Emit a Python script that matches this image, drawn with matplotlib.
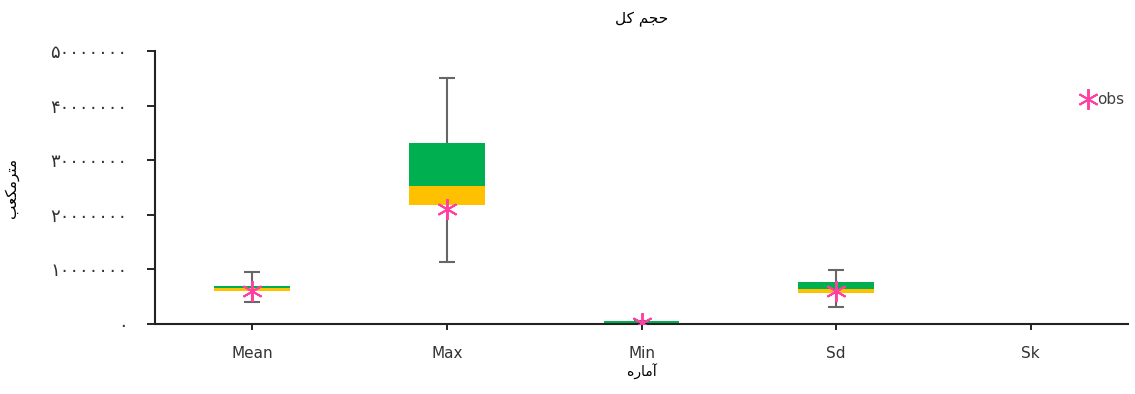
import numpy as np
import matplotlib
matplotlib.use("Agg")
import matplotlib.pyplot as plt

plt.rcParams['font.family'] = ['DejaVu Sans']

# Persian labels, written as presentation forms in visual order
# (matplotlib has no Arabic shaping)
TITLE = "\uFEDE\uFB90 \uFEE2\uFEA0\uFEA3"          # حجم کل
YLABEL = "\uFE90\uFECC\uFB91\uFEE3\uFEAE\uFE98\uFEE3"  # مترمکعب
XLABEL = "\uFEE9\uFEAD\uFE8E\uFEE3\uFE81"            # آماره

categories = ["Mean", "Max", "Min", "Sd", "Sk"]

# box statistics (m3)
whisker_low = [4.0e6, 1.13e7, 0.0, 3.2e6, np.nan]
q1 = [6.0e6, 2.18e7, 0.0, 5.6e6, np.nan]
median = [6.65e6, 2.53e7, 1.0e5, 6.35e6, np.nan]
q3 = [7.0e6, 3.31e7, 5.0e5, 7.7e6, np.nan]
whisker_high = [9.5e6, 4.5e7, 5.0e5, 9.8e6, np.nan]
obs = [6.0e6, 2.1e7, 2.0e5, 6.0e6, np.nan]

yticks = [0, 1e7, 2e7, 3e7, 4e7, 5e7]
persian_digits = str.maketrans("0123456789", "۰۱۲۳۴۵۶۷۸۹")
ytick_labels = [str(int(v)).translate(persian_digits) for v in yticks]

GREEN = "#00B050"
ORANGE = "#FFC000"
PINK = "#FF3FA4"
WHISK = "#666666"

fig = plt.figure(figsize=(11.35, 3.94), dpi=100)
ax = fig.add_axes([0.1366, 0.1777, 0.8572, 0.6929])

x = np.arange(len(categories))
wl = np.array(whisker_low)
wh = np.array(whisker_high)
q1a = np.array(q1)
meda = np.array(median)
q3a = np.array(q3)

# whiskers behind the boxes
ax.errorbar(x, meda, yerr=[meda - wl, wh - meda], fmt='none',
            ecolor=WHISK, elinewidth=1.5, capsize=6, capthick=1.5, zorder=1)

# box halves: lower = orange, upper = green
ax.bar(x, meda - q1a, bottom=q1a, width=0.39, color=ORANGE, zorder=2, linewidth=0)
ax.bar(x, q3a - meda, bottom=meda, width=0.39, color=GREEN, zorder=2, linewidth=0)

ax.plot(x, obs, linestyle='none', marker=(6, 2, 0), markersize=15,
        markeredgewidth=1.4, color=PINK, label='obs', zorder=3)

ax.set_xlim(-0.5, len(categories) - 0.5)
ax.set_ylim(0, 5e7)
ax.set_xticks(x)
ax.set_xticklabels(categories, fontsize=11, color='#333333')
ax.set_yticks(yticks)
ax.set_yticklabels(ytick_labels, fontsize=13, color='#333333')
ax.tick_params(axis='y', length=6, width=1.2, pad=14)
ax.tick_params(axis='x', length=4, width=1.2, pad=12)

for s in ['top', 'right']:
    ax.spines[s].set_visible(False)
for s in ['left', 'bottom']:
    ax.spines[s].set_linewidth(1.5)
    ax.spines[s].set_color('#222222')

ax.set_title(TITLE, fontsize=11, pad=20)
ax.set_ylabel(YLABEL, fontsize=11)
ax.yaxis.set_label_coords(-0.14, 0.5)
ax.set_xlabel(XLABEL, fontsize=10, labelpad=2)

leg = ax.legend(loc='upper right', bbox_to_anchor=(1.01, 0.90), frameon=False,
                fontsize=11, handletextpad=0.1, handlelength=1.0)
for t in leg.get_texts():
    t.set_color('#404040')

fig.savefig("out.png", dpi=100)
